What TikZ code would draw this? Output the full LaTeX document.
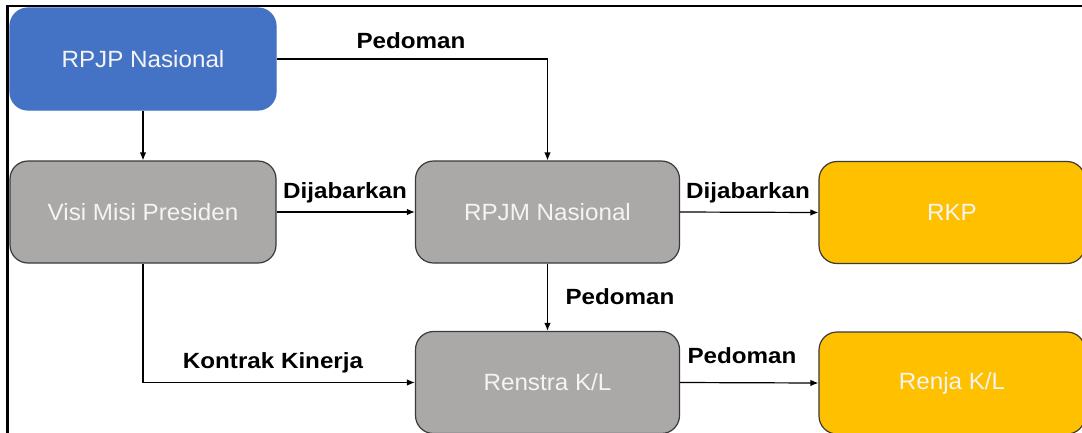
\documentclass[tikz,border=0pt]{standalone}
\usepackage{fontspec}
\setmainfont{Liberation Sans}
\usetikzlibrary{arrows.meta}
\definecolor{boxblue}{HTML}{4472C4}
\definecolor{boxgray}{HTML}{ABA8A8}
\definecolor{boxyellow}{HTML}{FFC000}
\definecolor{edgedark}{HTML}{3A3A3A}
\definecolor{txtlight}{HTML}{F4F4F4}
\begin{document}
\begin{tikzpicture}[x=1pt,y=-1pt,
  box/.style={rounded corners=18pt, minimum width=266pt, minimum height=102pt, inner sep=0pt,
    text=txtlight, font=\fontsize{23.5}{26}\selectfont, line width=1.2pt},
  bluebox/.style={box, fill=boxblue, draw=boxblue},
  graybox/.style={box, fill=boxgray, draw=edgedark},
  yellowbox/.style={box, fill=boxyellow, draw=edgedark},
  conn/.style={line width=1.2pt, -{Latex[length=8pt,width=6.5pt]}},
  lbl/.style={font=\fontsize{22}{24}\selectfont\bfseries, inner sep=0pt}
]
\useasboundingbox (0,0) rectangle (1082,432);
\clip (0,0) rectangle (1082,432);
\fill[white] (0,0) rectangle (1082,432);

\node[bluebox] (rpjp) at (143,59) {\scalebox{1.03}[1]{RPJP Nasional}};
\node[graybox] (visi) at (143,212) {\scalebox{1.03}[1]{Visi Misi Presiden}};
\node[graybox, minimum width=264pt] (rpjm) at (547.5,212) {\scalebox{1.03}[1]{RPJM Nasional}};
\node[graybox, minimum width=264pt] (renstra) at (547.5,382.5) {\scalebox{1.03}[1]{Renstra K/L}};
\node[yellowbox] (rkp) at (952,212.5) {\scalebox{1.03}[1]{RKP}};
\node[yellowbox] (renja) at (952,383) {\scalebox{1.03}[1]{Renja K/L}};

% connectors
\draw[conn] (rpjp.east) -| (rpjm.north);
\draw[conn] (rpjp.south) -- (visi.north);
\draw[conn] (visi.east) -- (rpjm.west);
\draw[conn] (rpjm.east) -- (rkp.west);
\draw[conn] (rpjm.south) -- (renstra.north);
\draw[conn] (visi.south) |- (renstra.west);
\draw[conn] (renstra.east) -- (renja.west);

% labels
\node[lbl] (l1) at (411,41) {\scalebox{1.1}[1]{Pedoman}};
\node[lbl] (l2) at (345,193) {\scalebox{1.1}[1]{Dijabarkan}};
\node[lbl] (l3) at (748,193) {\scalebox{1.1}[1]{Dijabarkan}};
\node[lbl] (l4) at (620,297) {\scalebox{1.1}[1]{Pedoman}};
\node[lbl] (l5) at (273,363) {\scalebox{1.1}[1]{Kontrak Kinerja}};
\node[lbl] (l6) at (742,356) {\scalebox{1.1}[1]{Pedoman}};

% frame
\draw[line width=2.4pt] (7.5,433) -- (7.5,6) -- (1083,6);
\end{tikzpicture}
\end{document}
